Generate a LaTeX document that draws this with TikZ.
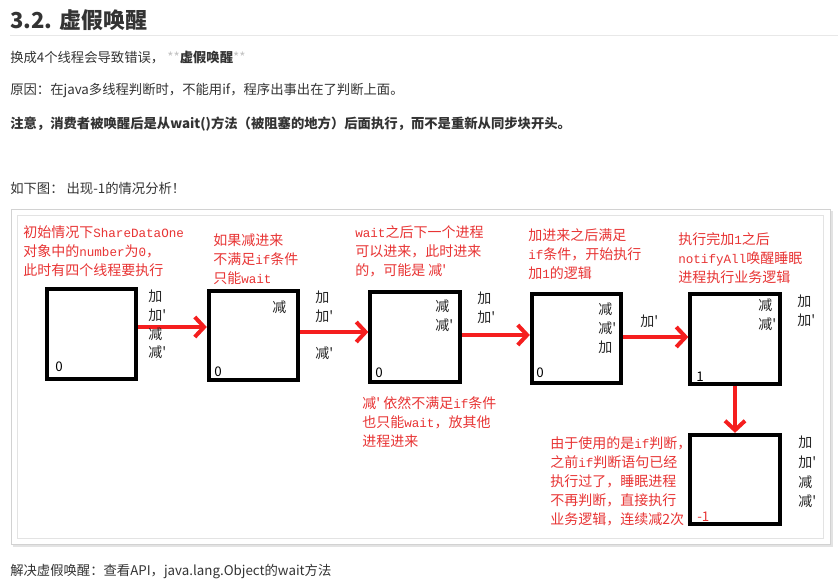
\documentclass[tikz,border=0pt]{standalone}
\usepackage{fontspec}
\setmainfont{Noto Sans CJK SC}[Ligatures=TeXOff]
\newfontfamily\mono[Scale=0.9]{Liberation Mono}
\usetikzlibrary{arrows.meta,calc}

\definecolor{txtgray}{RGB}{51,51,51}
\definecolor{notered}{RGB}{232,52,52}
\definecolor{arrowred}{RGB}{245,30,30}

\begin{document}
\begin{tikzpicture}[x=0.75pt,y=0.75pt,yscale=-1,xscale=1,
    databox/.style={draw, line width=3pt, minimum width=67pt, minimum height=67pt, inner sep=0pt},
    redarrow/.style={draw=arrowred, line width=3pt, -{Straight Barb[length=7pt,width=15pt]}},
    bodytext/.style={anchor=west, inner sep=0pt, text=txtgray, font=\fontsize{10}{12}\selectfont},
    redtext/.style={anchor=north west, inner sep=0pt, align=left, text=notered, font=\fontsize{10.5}{14.25}\selectfont},
    labeltext/.style={anchor=north west, inner sep=0pt, align=left, text=black!85, font=\fontsize{10.5}{14}\selectfont}]
        \useasboundingbox (0,0) rectangle (838,586);

        % Text Node
        \draw (10,20) node (title) [anchor=west][inner sep=0pt] [text=txtgray, font=\fontsize{16.5}{20}\selectfont\bfseries] {3.2. 虚假唤醒};
        %Straight Lines
        \draw [gray!18]  (10,35) -- (838,35) ;
        % Text Node
        \draw (10,58) node (intro) [bodytext] {换成4个线程会导致错误， {\color{txtgray!30}**}\textbf{虚假唤醒}{\color{txtgray!30}**}};
        % Text Node
        \draw (10,90) node (reason) [bodytext] {原因：在java多线程判断时，不能用if，程序出事出在了判断上面。};
        % Text Node
        \draw (10,124) node (notice) [bodytext] [font=\bfseries] {注意，消费者被唤醒后是从wait()方法（被阻塞的地方）后面执行，而不是重新从同步块开头。};
        % Text Node
        \draw (10,188) node (caption) [bodytext] {如下图： 出现-1的情况分析！};

        %Shape: Rectangle (frame)
        \fill [gray!22]  (13,211) rectangle (833,547) ;
        \draw [gray!35, fill=white]  (11,209) rectangle (830,544) ;
        \draw [gray!22]  (17,215) rectangle (823,538) ;

        %Shape: Square
        \node (box1) [databox] at (91.5,334) {};
        \node (box2) [databox] at (253.5,335.5) {};
        \node (box3) [databox] at (415,337) {};
        \node (box4) [databox] at (576.5,338.5) {};
        \node (box5) [databox] at (735,339) {};
        \node (box6) [databox] at (735,479.5) {};

        %Straight Lines
        \coordinate (go1) at ($(box1.east)+(0,-7)$);
        \draw [redarrow]  (go1) -- (go1 -| box2.west) ;
        \coordinate (go2) at ($(box2.east)+(0,-3.5)$);
        \draw [redarrow]  (go2) -- (go2 -| box3.west) ;
        \coordinate (go3) at ($(box3.east)+(0,-2)$);
        \draw [redarrow]  (go3) -- (go3 -| box4.west) ;
        \coordinate (go4) at ($(box4.east)+(0,-1.5)$);
        \draw [redarrow]  (go4) -- (go4 -| box5.west) ;
        \draw [redarrow]  (box5.south) -- (box6.north) ;

        % Text Node
        \draw (23,225) node (startnote) [redtext] {初始情况下{\mono ShareDataOne}\\对象中的{\mono number}为{\mono 0}，\\此时有四个线程要执行};
        % Text Node
        \draw (213,233) node (subnote) [redtext] {如果减进来\\不满足{\mono if}条件\\只能{\mono wait}};
        % Text Node
        \draw (355,225) node (waitnote) [redtext] {{\mono wait}之后下一个进程\\可以进来，此时进来\\的，可能是 减'};
        % Text Node
        \draw (362,396) node (stillnote) [redtext] {减' 依然不满足{\mono if}条件\\也只能{\mono wait}，放其他\\进程进来};
        % Text Node
        \draw (528,228) node (addnote) [redtext] {加进来之后满足\\{\mono if}条件，开始执行\\加{\mono 1}的逻辑};
        % Text Node
        \draw (678,232) node (notifynote) [redtext] {执行完加{\mono 1}之后\\{\mono notifyAll}唤醒睡眠\\进程执行业务逻辑};
        % Text Node
        \draw (550,436) node (ifnote) [redtext] {由于使用的是{\mono if}判断，\\之前{\mono if}判断语句已经\\执行过了，睡眠进程\\不再判断，直接执行\\业务逻辑，连续减2次};

        % Text Node
        \draw (148,290) node (queue1) [labeltext] {加\\加'\\减\\减'};
        % Text Node
        \draw (272,301) node (inside2) [labeltext] {减};
        % Text Node
        \draw (315,291) node (queue2) [labeltext] {加\\加'\\[14pt]减'};
        % Text Node
        \draw (435,300) node (inside3) [labeltext] {减\\减'};
        % Text Node
        \draw (477,292) node (queue3) [labeltext] {加\\加'};
        % Text Node
        \draw (598,303) node (inside4) [labeltext] {减\\减'\\加};
        % Text Node
        \draw (640,315) node (queue4) [labeltext] {加'};
        % Text Node
        \draw (758,299) node (inside5) [labeltext] {减\\减'};
        % Text Node
        \draw (797,295) node (queue5) [labeltext] {加\\加'};
        % Text Node
        \draw (798,436) node (queue6) [labeltext] [font=\fontsize{10.5}{14.7}\selectfont] {加\\加'\\减\\减'};

        % Text Node
        \draw (55,367) node (num1) [anchor=west][inner sep=0pt] [font=\fontsize{10}{12}\selectfont] {0};
        \draw (214,372) node (num2) [anchor=west][inner sep=0pt] [font=\fontsize{10}{12}\selectfont] {0};
        \draw (375,373) node (num3) [anchor=west][inner sep=0pt] [font=\fontsize{10}{12}\selectfont] {0};
        \draw (536,373) node (num4) [anchor=west][inner sep=0pt] [font=\fontsize{10}{12}\selectfont] {0};
        \draw (696,377) node (num5) [anchor=west][inner sep=0pt] [font=\fontsize{10}{12}\selectfont] {1};
        \draw (697,517) node (num6) [anchor=west][inner sep=0pt] [text=notered, font=\fontsize{10}{12}\selectfont] {-1};

        % Text Node
        \draw (10,572) node (solution) [bodytext] {解决虚假唤醒：查看API，java.lang.Object的wait方法};

    \end{tikzpicture}
\end{document}
